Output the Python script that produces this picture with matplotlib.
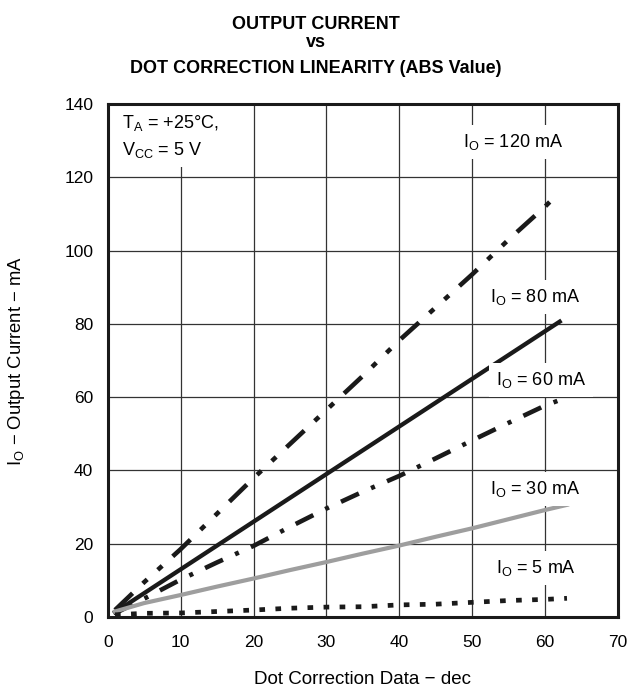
import matplotlib
matplotlib.use("Agg")
import matplotlib.pyplot as plt

plt.rcParams['font.family'] = ['Liberation Sans', 'DejaVu Sans']
plt.rcParams['mathtext.fontset'] = 'custom'
plt.rcParams['mathtext.rm'] = 'Liberation Sans'

# Data
x_120 = [1, 5, 10, 15, 20, 25, 30, 35, 40, 45, 50, 55, 60, 62]
y_120 = [1.9, 9.5, 18.5, 28.2, 37.9, 47.2, 56.5, 65.8, 75.5, 84.5, 93.5, 103.0, 112.0, 116.0]

x_80 = [1, 5, 10, 15, 20, 25, 30, 35, 40, 45, 50, 55, 60, 62]
y_80 = [1.3, 6.5, 13.0, 19.5, 26.0, 32.5, 39.0, 45.5, 52.0, 58.5, 65.0, 71.5, 78.0, 80.6]

x_60 = [1, 5, 10, 15, 20, 25, 30, 35, 40, 45, 50, 55, 60, 62]
y_60 = [1.0, 5.0, 10.2, 14.9, 19.4, 24.6, 29.6, 34.2, 38.5, 43.3, 48.2, 53.0, 57.7, 59.2]

x_30 = [1, 5, 10, 15, 20, 25, 30, 35, 40, 45, 50, 55, 60, 63]
y_30 = [1.5, 3.8, 6.0, 8.3, 10.5, 12.8, 15.0, 17.3, 19.5, 21.9, 24.2, 26.7, 29.2, 30.6]

x_5 = [1, 5, 10, 15, 20, 25, 30, 35, 40, 45, 50, 55, 60, 63]
y_5 = [0.6, 1.0, 1.1, 1.5, 1.9, 2.4, 2.7, 2.8, 3.3, 3.5, 4.0, 4.5, 4.8, 5.1]

x_ticks = [0, 10, 20, 30, 40, 50, 60, 70]
y_ticks = [0, 20, 40, 60, 80, 100, 120, 140]

fig = plt.figure(figsize=(6.31, 6.90), dpi=100)
ax = fig.add_axes([0.1707, 0.1058, 0.8087, 0.7435])

ax.plot(x_120, y_120, color='#1a1a1a', lw=3.3,
        linestyle=(0, (5.3, 3.1, 1.3, 3.1, 1.3, 3.1)), zorder=3)
ax.plot(x_80, y_80, color='#1a1a1a', lw=3.1, linestyle='-', zorder=3)
ax.plot(x_60, y_60, color='#1a1a1a', lw=3.3,
        linestyle=(0, (4.3, 2.9, 0.9, 2.9)), zorder=3)
ax.plot(x_30, y_30, color='#9e9e9e', lw=3.0, linestyle='-', zorder=3)
ax.plot(x_5, y_5, color='#1a1a1a', lw=3.4,
        linestyle=(0, (1.2, 2.2)), zorder=3)

ax.set_xlim(0, 70)
ax.set_ylim(0, 140)
ax.set_xticks(x_ticks)
ax.set_yticks(y_ticks)
ax.tick_params(axis='x', length=0, labelsize=12.5, pad=13)
ax.tick_params(axis='y', length=0, labelsize=12.5, pad=10.5)
ax.grid(True, color='#333333', lw=0.9)
ax.set_axisbelow(True)
for s in ax.spines.values():
    s.set_linewidth(2.2)
    s.set_color('#1a1a1a')
    s.set_zorder(6)

ax.set_xlabel('Dot Correction Data − dec', fontsize=13.5, va='center', ha='center')
ax.xaxis.set_label_coords(0.5, -0.1228)
ax.set_ylabel('I$_\\mathregular{O}$ − Output Current − mA', fontsize=13.3, va='center', ha='center')
ax.yaxis.set_label_coords(-0.178, 0.5)

for ty, tt in [(0.958, 'OUTPUT CURRENT'), (0.932, 'vs'),
               (0.894, 'DOT CORRECTION LINEARITY (ABS Value)')]:
    fig.text(0.5, ty, tt, ha='center', va='baseline', fontsize=13,
             fontweight='bold')

bb = dict(facecolor='white', edgecolor='none', pad=5)
ax.text(1.96, 126.1, 'T$_\\mathregular{A}$ = +25°C,\nV$_\\mathregular{CC}$ = 5 V', fontsize=13,
        ha='left', va='baseline', linespacing=1.48, bbox=bb, zorder=4)
labels = [
    (48.7, 128.3, 'I$_\\mathregular{O}$ = 120 mA'),
    (52.4, 86.0, 'I$_\\mathregular{O}$ = 80 mA'),
    (53.3, 63.3, 'I$_\\mathregular{O}$ = 60 mA'),
    (52.5, 33.6, 'I$_\\mathregular{O}$ = 30 mA'),
    (53.3, 12.0, 'I$_\\mathregular{O}$ = 5 mA'),
]
for lx, ly, lt in labels:
    ax.text(lx, ly, lt, fontsize=13, ha='left', va='baseline', bbox=bb, zorder=4)

fig.savefig('out.png', dpi=100)
